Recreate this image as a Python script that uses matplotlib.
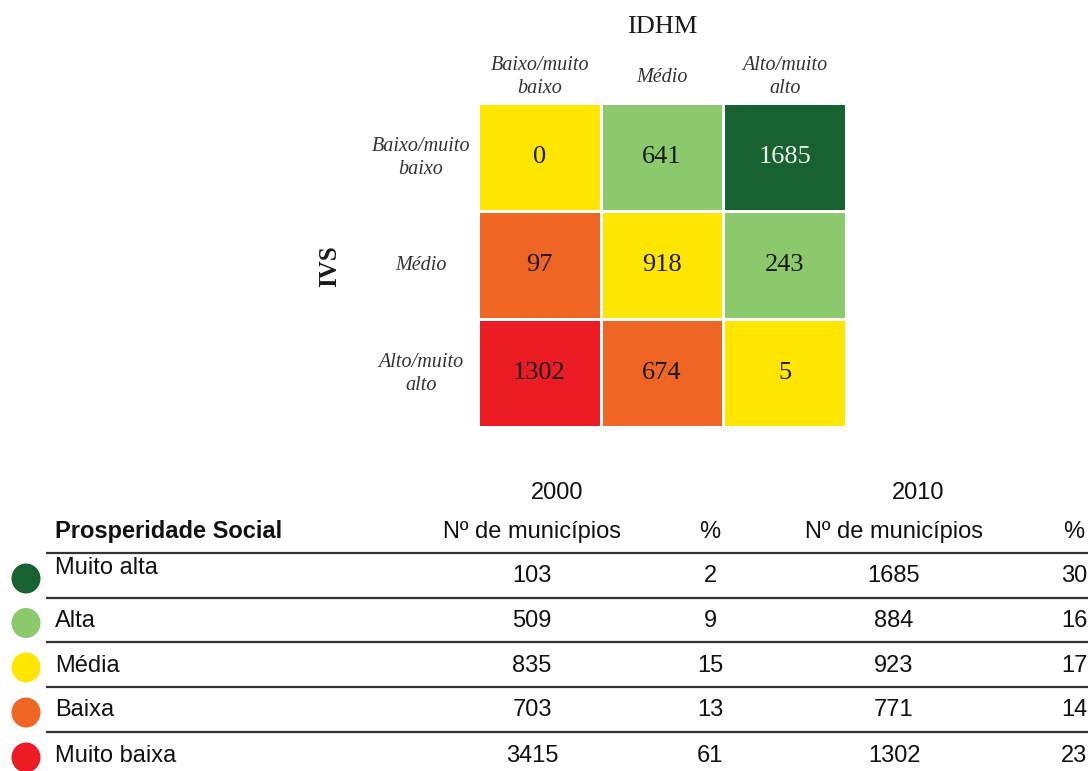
import matplotlib.pyplot as plt
from matplotlib.colors import ListedColormap
from matplotlib.patches import Ellipse

# --- Data ---
idhm_labels = ['Baixo/muito\nbaixo', 'Médio', 'Alto/muito\nalto']
ivs_labels = ['Baixo/muito\nbaixo', 'Médio', 'Alto/muito\nalto']
cell_counts = [[0, 641, 1685],
               [97, 918, 243],
               [1302, 674, 5]]
# prosperity level of each cell (0 = muito baixa ... 4 = muito alta)
cell_levels = [[2, 3, 4],
               [1, 2, 3],
               [0, 1, 2]]

categories = ['Muito alta', 'Alta', 'Média', 'Baixa', 'Muito baixa']
n_2000 = [103, 509, 835, 703, 3415]
pct_2000 = [2, 9, 15, 13, 61]
n_2010 = [1685, 884, 923, 771, 1302]
pct_2010 = [30, 16, 17, 14, 23]

level_colors = ['#ec1c24', '#ee6524', '#ffe600', '#8cc86c', '#186232']
cat_colors = level_colors[::-1]

serif = 'Liberation Serif'
sans = 'Liberation Sans'

fig = plt.figure(figsize=(10.88, 7.71), dpi=100)

# background axes in pixel coordinates for labels / table
bg = fig.add_axes([0, 0, 1, 1])
bg.set_xlim(0, 1088)
bg.set_ylim(771, 0)
bg.axis('off')

# --- Heatmap ---
hm = fig.add_axes([478 / 1088, 1 - 427 / 771, 368 / 1088, 324 / 771])
hm.pcolormesh(cell_levels, cmap=ListedColormap(level_colors), vmin=-0.5, vmax=4.5,
              edgecolors='white', linewidth=2)
hm.set_xlim(0, 3)
hm.set_ylim(3, 0)
hm.axis('off')
for i in range(3):
    for j in range(3):
        col = '#eeeeee' if cell_levels[i][j] == 4 else '#1a1a1a'
        hm.text(j + 0.5, i + 0.5, str(cell_counts[i][j]), ha='center', va='center',
                fontsize=19, family=serif, color=col)

col_x = [540, 662, 785]
for x, lab in zip(col_x, idhm_labels):
    bg.text(x, 77, lab, ha='center', va='center', fontsize=14.5, family=serif,
            style='italic', color='#333333', linespacing=1.25)
row_y = [158, 266, 374]
for y, lab in zip(row_y, ivs_labels):
    bg.text(421, y, lab, ha='center', va='center', fontsize=14.5, family=serif,
            style='italic', color='#333333', linespacing=1.25)
bg.text(662, 27, 'IDHM', ha='center', va='center', fontsize=19, family=serif, color='#1a1a1a')
bg.text(330, 266, 'IVS', ha='center', va='center', fontsize=18, family=serif,
        weight='bold', rotation=90, color='#1a1a1a')

# --- Table ---
fs = 17
tx = {'n1': 532, 'p1': 710, 'n2': 894, 'p2': 1074}
bg.text(557, 499, '2000', ha='center', va='baseline', fontsize=fs, family=sans, color='#111111')
bg.text(918, 499, '2010', ha='center', va='baseline', fontsize=fs, family=sans, color='#111111')
bg.text(55, 538, 'Prosperidade Social', ha='left', va='baseline', fontsize=fs,
        family=sans, weight='bold', color='#111111')
for key, lab in [('n1', 'Nº de municípios'), ('p1', '%'), ('n2', 'Nº de municípios'), ('p2', '%')]:
    bg.text(tx[key], 538, lab, ha='center', va='baseline', fontsize=fs, family=sans, color='#111111')

line_y = [553, 598, 642, 687, 732, 777]
for y in line_y:
    bg.plot([46, 1088], [y, y], color='#333333', lw=1.6, solid_capstyle='butt')

for k, cat in enumerate(categories):
    yc = (line_y[k] + line_y[k + 1]) / 2
    lab_y = yc + 7 if k > 0 else yc - 1
    bg.text(55, lab_y, cat, ha='left', va='baseline', fontsize=fs, family=sans, color='#111111')
    for key, vals in [('n1', n_2000), ('p1', pct_2000), ('n2', n_2010), ('p2', pct_2010)]:
        bg.text(tx[key], yc + 7, str(vals[k]), ha='center', va='baseline', fontsize=fs,
                family=sans, color='#111111')
    bg.add_patch(Ellipse((26, yc + 3), 29, 30, color=cat_colors[k], lw=0))

fig.savefig('out.png', dpi=100)
